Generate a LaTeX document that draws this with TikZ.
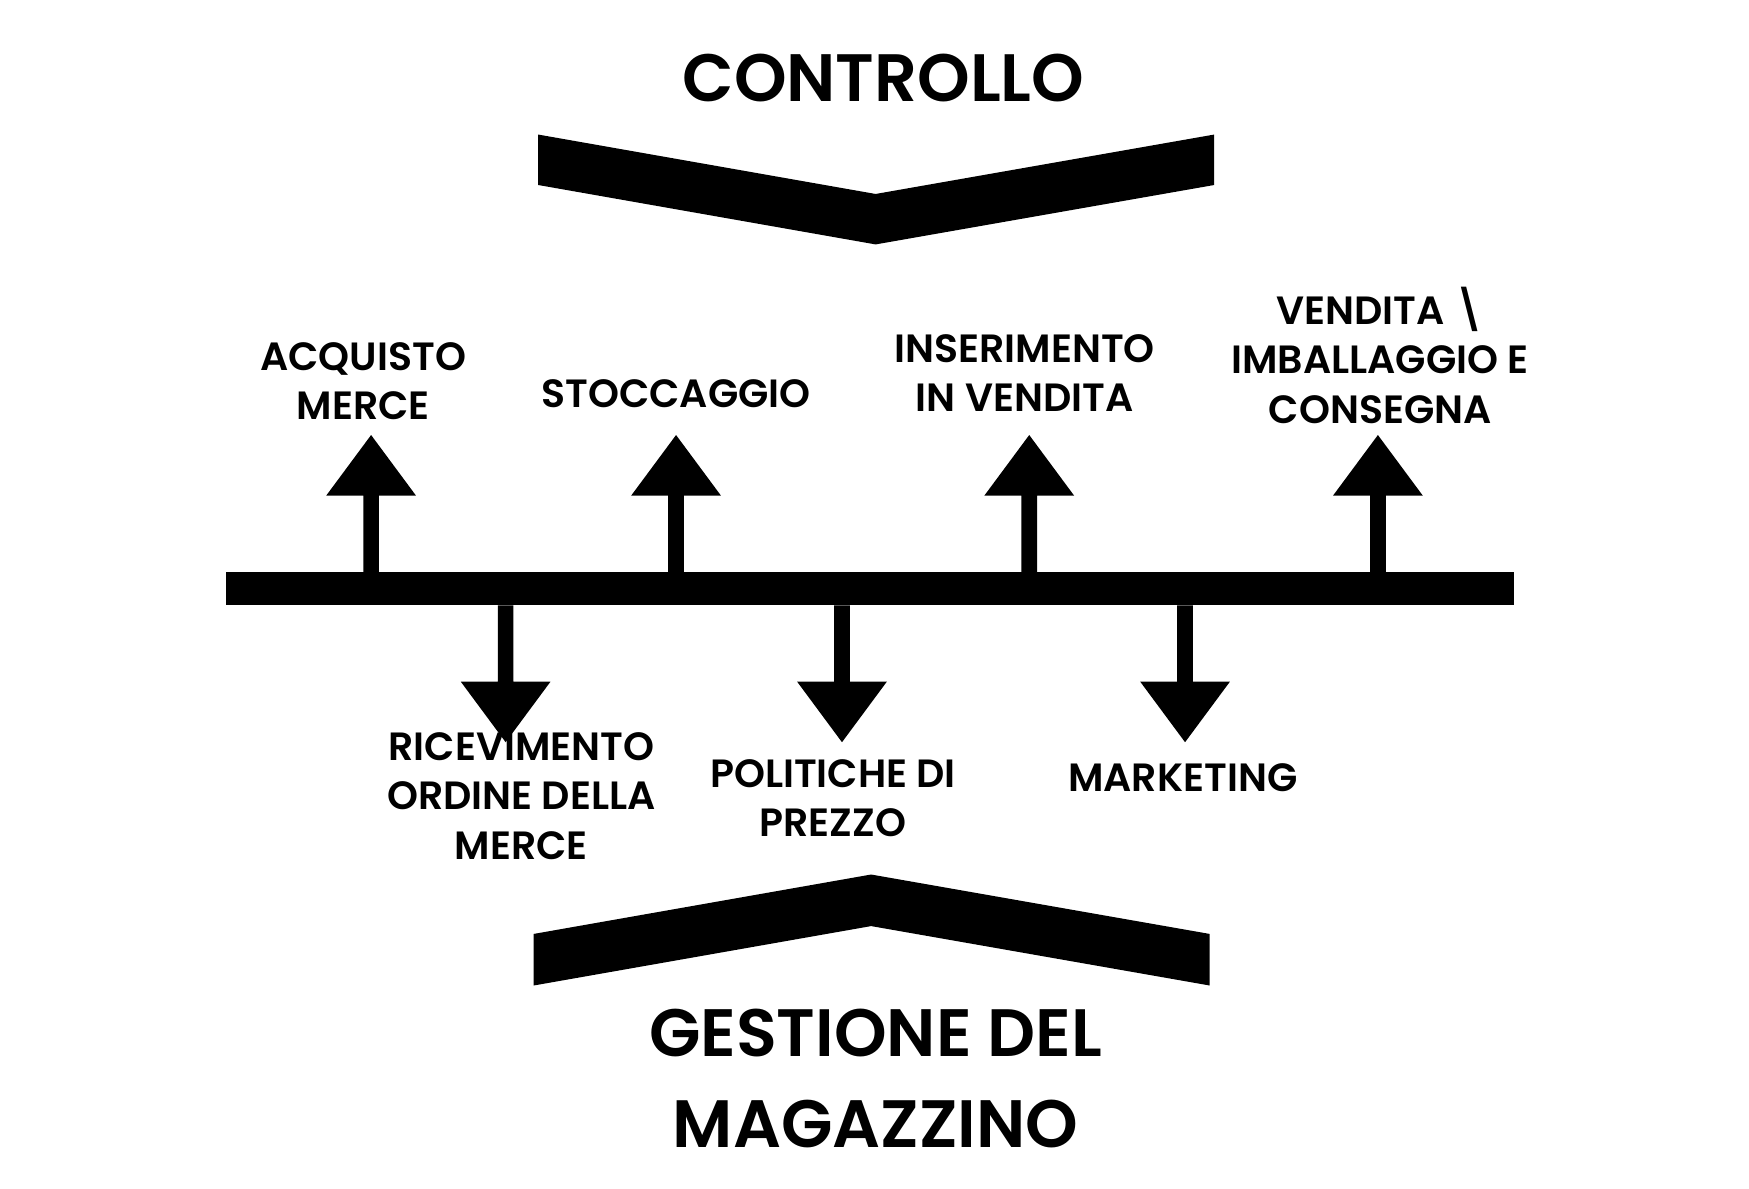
\documentclass[tikz,border=0pt]{standalone}
\usepackage{fontspec}
\setmainfont{Poppins}[UprightFont=* SemiBold]
\usetikzlibrary{positioning}
\tikzset{
  lbl/.style={align=center, font=\fontsize{10}{12.5}\selectfont, inner sep=1pt},
  title/.style={align=center, font=\fontsize{17}{23}\selectfont, inner sep=1pt}
}
\begin{document}
\begin{tikzpicture}[x=0.01cm, y=-0.01cm]
   \useasboundingbox (0,0) rectangle (1560,1060);
   % Chevrons
   \fill (480,120) -- (781,173) -- (1083,120) -- (1083,165) -- (781,218) -- (480,165) -- cycle;
   \fill (476,833) -- (777,780) -- (1079,833) -- (1079,879) -- (777,826) -- (476,879) -- cycle;
   % Main bar
   \fill (202,510) rectangle (1350,540);
   % Upward arrows
   \foreach \x in {331,603,918,1229}
     \fill (\x-7,510) -- (\x-7,442) -- (\x-40,442) -- (\x,388) -- (\x+40,442) -- (\x+7,442) -- (\x+7,510) -- cycle;
   % Downward arrows
   \foreach \x in {451,751,1057}
     \fill (\x-7,540) -- (\x-7,608) -- (\x-40,608) -- (\x,662) -- (\x+40,608) -- (\x+7,608) -- (\x+7,540) -- cycle;
   % Titles
   \node[title] (ctrl) at (788,70) {CONTROLLO};
   \node[title] (gest) at (781,962) {GESTIONE DEL\\MAGAZZINO};
   % Labels
   \node[lbl] (acq) at (324,340) {ACQUISTO\\MERCE};
   \node[lbl] (sto) at (603,351) {STOCCAGGIO};
   \node[lbl] (ins) at (914,333) {INSERIMENTO\\IN VENDITA};
   \node[lbl] (ven) at (1231,317) {VENDITA \textbackslash\\IMBALLAGGIO E\\CONSEGNA};
   \node[lbl] (ric) at (465,710) {RICEVIMENTO\\ORDINE DELLA\\MERCE};
   \node[lbl] (pol) at (743,712) {POLITICHE DI\\PREZZO};
   \node[lbl] (mkt) at (1055,694) {MARKETING};
\end{tikzpicture}
\end{document}
